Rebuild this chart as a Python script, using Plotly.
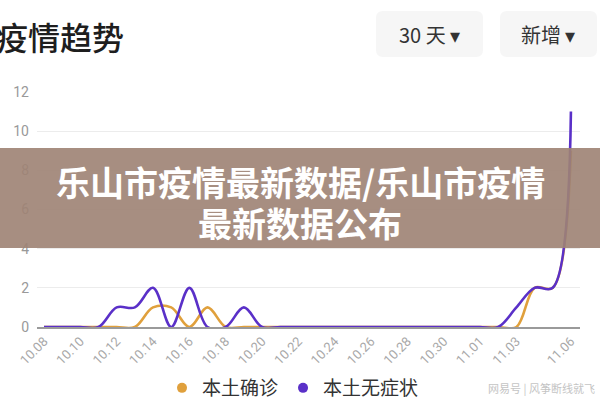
import plotly.graph_objects as go

# ---- data ----
dates = ["10.08", "10.09", "10.10", "10.11", "10.12", "10.13", "10.14", "10.15",
         "10.16", "10.17", "10.18", "10.19", "10.20", "10.21", "10.22", "10.23",
         "10.24", "10.25", "10.26", "10.27", "10.28", "10.29", "10.30", "10.31",
         "11.01", "11.02", "11.03", "11.04", "11.05", "11.06"]
confirmed = [0, 0, 0, 0, 0, 0, 1, 1, 0, 1, 0, 0, 0, 0, 0, 0, 0, 0, 0, 0,
             0, 0, 0, 0, 0, 0, 0, 2, 2, 9]
asymptomatic = [0, 0, 0, 0, 1, 1, 2, 0, 2, 0, 0, 1, 0, 0, 0, 0, 0, 0, 0, 0,
                0, 0, 0, 0, 0, 0, 1, 2, 2, 11]
tick_labels = ["10.08", "10.10", "10.12", "10.14", "10.16", "10.18", "10.20",
               "10.22", "10.24", "10.26", "10.28", "10.30", "11.01", "11.03", "11.06"]
y_ticks = [0, 2, 4, 6, 8, 10, 12]
series_names = ["本土确诊", "本土无症状"]
colors = ["#e0a03c", "#5a30c8"]

# ---- layout helpers (pixel -> paper) ----
W, Hh = 600, 400
L, R, T, B = 37, 20, 92, 73
PW, PH = W - L - R, Hh - T - B


def px(x):
    return (x - L) / PW


def py(y):
    return (Hh - B - y) / PH


CJK = "Noto Sans CJK SC, Noto Sans, sans-serif"

fig = go.Figure()
for vals, name, col in [(confirmed, series_names[0], colors[0]),
                        (asymptomatic, series_names[1], colors[1])]:
    fig.add_trace(go.Scatter(
        x=dates, y=vals, mode="lines", name=name, showlegend=False,
        line=dict(color=col, width=2.6, shape="spline", smoothing=1.0),
        hoverinfo="skip"))
# legend dots
for name, col in zip(series_names, colors):
    fig.add_trace(go.Scatter(
        x=[None], y=[None], mode="markers", name=name,
        marker=dict(color=col, size=10, symbol="circle")))

tickvals = [d for d in dates if d in tick_labels]

fig.update_layout(
    width=W, height=Hh,
    margin=dict(l=L, r=R, t=T, b=B, pad=0, autoexpand=False),
    paper_bgcolor="white", plot_bgcolor="white",
    font=dict(family=CJK, color="#999999"),
    xaxis=dict(
        type="category", range=[-0.385, 29.5],
        tickmode="array", tickvals=tickvals, ticktext=tick_labels,
        tickangle=-45, tickfont=dict(size=13, color="#a8a8a8", family="Roboto, sans-serif"),
        showgrid=False, zeroline=False, showline=True, linecolor="#9a9a9a", linewidth=1.5,
        ticks="", fixedrange=True, automargin=False),
    yaxis=dict(
        range=[0, 12], tickvals=y_ticks, showgrid=True, gridcolor="#ececec", gridwidth=1,
        zeroline=False, showline=False, ticks="",
        tickfont=dict(size=14, color="#999999", family="Roboto, sans-serif"),
        ticklabelstandoff=7, fixedrange=True, automargin=False),
    legend=dict(orientation="h", x=px(293), xanchor="center", y=py(388), yanchor="middle",
                font=dict(size=19, color="#333333", family=CJK),
                itemwidth=30, bgcolor="rgba(0,0,0,0)"),
    showlegend=True,
)

shapes = []


def rounded(x0, y0, x1, y1, r):
    a, b, c, d = px(x0), py(y0), px(x1), py(y1)
    rx, ry = r / PW, r / PH
    return (f"M {a+rx},{b} L {c-rx},{b} Q {c},{b} {c},{b-ry} L {c},{d+ry} "
            f"Q {c},{d} {c-rx},{d} L {a+rx},{d} Q {a},{d} {a},{d+ry} L {a},{b-ry} "
            f"Q {a},{b} {a+rx},{b} Z")


for (x0, x1) in [(376, 483), (500, 597)]:
    shapes.append(dict(type="path", xref="paper", yref="paper",
                       path=rounded(x0, 11, x1, 57, 7),
                       fillcolor="#f6f6f6", line=dict(width=0), layer="below"))
# banner
shapes.append(dict(type="rect", xref="paper", yref="paper",
                   x0=px(0), x1=px(600), y0=py(248), y1=py(148),
                   fillcolor="rgba(158,131,116,0.91)", line=dict(width=0), layer="above"))
fig.update_layout(shapes=shapes)

ann = [
    dict(text="疫情趋势", x=px(-6), y=py(36), xanchor="left", yanchor="middle",
         font=dict(size=32, color="#1e1e1e", family=CJK, weight=500)),
    dict(text="30 天 ▾", x=px(429), y=py(34), xanchor="center", yanchor="middle",
         font=dict(size=20, color="#333333", family=CJK)),
    dict(text="新增 ▾", x=px(548), y=py(34), xanchor="center", yanchor="middle",
         font=dict(size=20, color="#333333", family=CJK)),
    dict(text="乐山市疫情最新数据/乐山市疫情", x=px(300), y=py(181), xanchor="center",
         yanchor="middle", font=dict(size=34, color="white", family=CJK, weight="bold")),
    dict(text="最新数据公布", x=px(300), y=py(222), xanchor="center",
         yanchor="middle", font=dict(size=34, color="white", family=CJK, weight="bold")),
    dict(text="网易号 | 风筝断线就飞", x=px(597), y=py(388), xanchor="right",
         yanchor="middle", font=dict(size=11, color="#c4c4c4", family=CJK)),
]
for a in ann:
    a.update(xref="paper", yref="paper", showarrow=False)
fig.update_layout(annotations=ann)

fig.write_html("out.html", config={"displayModeBar": False},
               post_script="document.body.style.margin='0';document.body.style.padding='0';")
